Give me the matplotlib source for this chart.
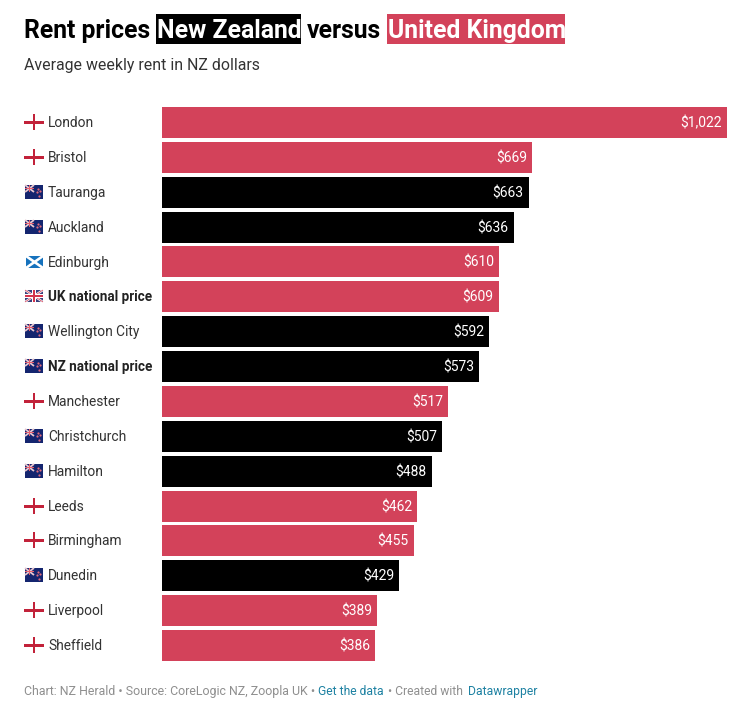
import matplotlib
matplotlib.use('Agg')
import matplotlib.pyplot as plt
from matplotlib.patches import Rectangle

plt.rcParams['font.family'] = ['Roboto', 'DejaVu Sans']

# values
cities = ['London', 'Bristol', 'Tauranga', 'Auckland', 'Edinburgh', 'UK national price',
          'Wellington City', 'NZ national price', 'Manchester', 'Christchurch', 'Hamilton',
          'Leeds', 'Birmingham', 'Dunedin', 'Liverpool', 'Sheffield']
rents = [1022, 669, 663, 636, 610, 609, 592, 573, 517, 507, 488, 462, 455, 429, 389, 386]
flags = ['eng', 'eng', 'nz', 'nz', 'sco', 'uk', 'nz', 'nz', 'eng', 'nz', 'nz', 'eng', 'eng', 'nz', 'eng', 'eng']
bold_rows = ['UK national price', 'NZ national price']

RED = '#d3425a'
BLACK = '#000000'
W, H = 737, 711

fig = plt.figure(figsize=(W / 100, H / 100), dpi=100)

# overlay in pixels for the title, flags and footer
bg = fig.add_axes([0, 0, 1, 1])
bg.set_xlim(0, W)
bg.set_ylim(H, 0)
bg.axis('off')

# bars
top, bottom, left, right = 107, 661, 162, 727
ax = fig.add_axes([left / W, 1 - bottom / H, (right - left) / W, (bottom - top) / H])
colors = [BLACK if f == 'nz' else RED for f in flags]
bar_h = 0.89
ax.barh(range(len(cities)), rents, height=bar_h, color=colors)
ax.set_xlim(0, max(rents))
ax.set_ylim(len(cities) - 1 + bar_h / 2, -bar_h / 2)
ax.axis('off')
for i, v in enumerate(rents):
    ax.annotate('${:,}'.format(v), (v, i), xytext=(-3.6, -3.6), textcoords='offset points',
                ha='right', va='baseline', color='white', fontsize=10)


def rect(x, y, w, h, c, z=3):
    bg.add_patch(Rectangle((x, y), w, h, facecolor=c, edgecolor='none', zorder=z))


def cross_lines(x, y, w, h, c, lw, z):
    bg.plot([x, x + w], [y, y + h], color=c, lw=lw, zorder=z, solid_capstyle='butt')
    bg.plot([x, x + w], [y + h, y], color=c, lw=lw, zorder=z, solid_capstyle='butt')


def draw_flag(kind, cy):
    x = 25
    w = 18
    if kind == 'eng':
        rect(x + 8, cy - 8, 2.5, 16, '#c2223a')
        rect(x - 1, cy - 1, w + 2, 2.5, '#c2223a')
    elif kind == 'sco':
        rect(x + 1, cy - 6, w - 1, 12, '#1672bd')
        cross_lines(x + 1, cy - 6, w - 1, 12, 'white', 1.9, 4)
    elif kind == 'uk':
        rect(x, cy - 6, w, 12, '#39407c')
        cross_lines(x, cy - 6, w, 12, 'white', 1.6, 4)
        cross_lines(x, cy - 6, w, 12, '#d4344c', 0.5, 5)
        rect(x + w / 2 - 2, cy - 6, 4, 12, 'white', 6)
        rect(x, cy - 2, w, 4, 'white', 6)
        rect(x + w / 2 - 1, cy - 6, 2, 12, '#d4344c', 7)
        rect(x, cy - 1, w, 2, '#d4344c', 7)
    else:
        rect(x, cy - 7, w, 14, '#14256f')
        # canton, squashed jack
        cross_lines(x, cy - 7, 9, 7, '#e8c6cf', 1.3, 4)
        rect(x + 3.8, cy - 7, 1.6, 7, '#e4606f', 5)
        rect(x, cy - 4.2, 9, 1.5, '#e4606f', 5)
        # southern cross
        bg.scatter([x + 13, x + 15.5, x + 12, x + 14], [cy - 3.5, cy - 1, cy, cy + 4], s=2.5,
                   color='#e06a7a', linewidths=0, zorder=5)


# row labels and flags, following the bars
for i, (name, f) in enumerate(zip(cities, flags)):
    cy = top + (i + bar_h / 2) * (bottom - top) / (len(cities) - 1 + bar_h)
    weight = 'bold' if name in bold_rows else 'normal'
    bg.text(48, cy + 4.6, name, ha='left', va='baseline', fontsize=9.75 if weight == 'bold' else 9.9,
            fontweight=weight, color='#222222' if weight == 'bold' else '#333333')
    draw_flag(f, round(cy - 0.4))

# title with highlighted words
rect(156, 14, 145, 30, BLACK, 1)
rect(387, 14, 178, 30, RED, 1)
title_size = 17.8
bg.text(24, 38, 'Rent prices', fontsize=title_size, fontweight='bold', color='black', va='baseline')
bg.text(157, 38, 'New Zealand', fontsize=title_size, fontweight='bold', color='white', va='baseline', zorder=2)
bg.text(307, 38, 'versus', fontsize=title_size, fontweight='bold', color='black', va='baseline')
bg.text(388, 38, 'United Kingdom', fontsize=title_size, fontweight='bold', color='white', va='baseline', zorder=2)
bg.text(24, 70, 'Average weekly rent in NZ dollars', fontsize=11.4, color='#333333', va='baseline')

# footer
foot = 8.75
bg.text(24, 695, 'Chart: NZ Herald \u2022 Source: CoreLogic NZ, Zoopla UK \u2022', fontsize=8.95, color='#8f8f8f', va='baseline')
bg.text(318, 695, 'Get the data', fontsize=foot, color='#1d81a2', va='baseline')
bg.text(388, 695, '\u2022 Created with', fontsize=foot, color='#8f8f8f', va='baseline')
bg.text(468, 695, 'Datawrapper', fontsize=foot, color='#1d81a2', va='baseline')

fig.savefig('out.png', dpi=100, facecolor='white')
